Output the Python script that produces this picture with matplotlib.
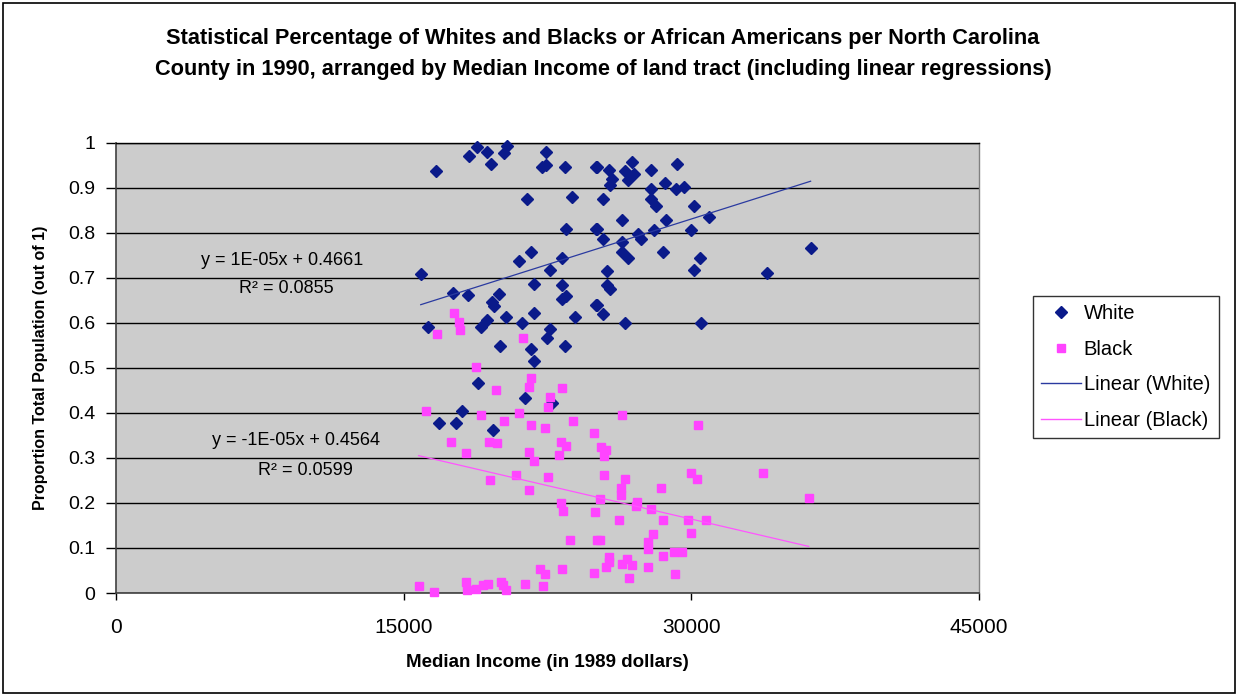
import matplotlib
matplotlib.use("Agg")
import matplotlib.pyplot as plt
from matplotlib.lines import Line2D
from matplotlib.patches import Rectangle
import numpy as np

plt.rcParams['font.family'] = ['Liberation Sans', 'DejaVu Sans']

# Median income (1989 dollars) and share of population, White residents
white_income = [18400, 18820, 19340, 20380, 20230, 19550, 16670, 22420, 22420, 22210,
                23420, 25040, 21430, 23780, 23470, 25040, 21640, 21010, 23260, 15890,
                22630, 21800, 23260, 17560, 18350, 19970, 19600, 19700, 21800, 23470,
                23260, 25040, 20330, 19340, 19020, 21170, 23940, 16250, 22630, 22470,
                20020, 21640, 21800, 23420, 18870, 21320, 22740, 16830, 17720, 18030,
                19650, 25090, 25710, 25870, 25770, 26920, 26550, 27020, 26710, 27910,
                29270, 27910, 28640, 29220, 29630, 25400, 27910, 28170, 30160, 26390,
                28690, 30940, 25090, 25400, 27230, 27390, 28070, 30000, 26390, 26390,
                26710, 28540, 30470, 30160, 33920, 36220, 25610, 25610, 25770, 25090,
                25400, 26550, 30520]
white_share = [0.971, 0.989, 0.978, 0.993, 0.976, 0.953, 0.936, 0.978, 0.949, 0.945,
               0.945, 0.945, 0.874, 0.880, 0.807, 0.807, 0.756, 0.736, 0.743, 0.707,
               0.716, 0.687, 0.683, 0.667, 0.661, 0.663, 0.645, 0.636, 0.621, 0.659,
               0.652, 0.639, 0.612, 0.605, 0.590, 0.599, 0.612, 0.590, 0.585, 0.565,
               0.548, 0.541, 0.514, 0.548, 0.466, 0.432, 0.421, 0.377, 0.377, 0.404,
               0.361, 0.945, 0.938, 0.918, 0.905, 0.956, 0.936, 0.929, 0.916, 0.938,
               0.953, 0.896, 0.909, 0.896, 0.902, 0.874, 0.874, 0.860, 0.860, 0.827,
               0.829, 0.834, 0.807, 0.785, 0.798, 0.785, 0.805, 0.805, 0.780, 0.756,
               0.743, 0.756, 0.743, 0.716, 0.710, 0.765, 0.714, 0.683, 0.674, 0.639,
               0.619, 0.599, 0.599]

# Median income (1989 dollars) and share of population, Black or African American residents
black_income = [17610, 17880, 17930, 16730, 21220, 18760, 21640, 19810, 21530, 23260,
                22630, 22530, 16150, 19020, 21010, 20230, 21640, 22370, 23830, 24930,
                17460, 19440, 19860, 23210, 23470, 18240, 21530, 21800, 23100, 19500,
                20850, 22530, 21530, 23210, 23310, 24980, 23680, 25090, 22110, 22370,
                23260, 24930, 15780, 16570, 18240, 18290, 18760, 19130, 19390, 20070,
                20170, 20330, 21320, 22270, 26390, 30370, 25300, 25560, 25450, 25450,
                26550, 30000, 30310, 33760, 28430, 26340, 26340, 36120, 25240, 27180,
                27130, 27910, 26240, 28540, 29840, 30780, 30000, 25240, 28010, 27750,
                27750, 25710, 25710, 26660, 25560, 26390, 26920, 27750, 28540, 29110,
                29530, 26760, 29160]
black_share = [0.621, 0.601, 0.583, 0.574, 0.565, 0.501, 0.477, 0.450, 0.457, 0.455,
               0.435, 0.412, 0.404, 0.395, 0.399, 0.381, 0.373, 0.366, 0.381, 0.355,
               0.335, 0.335, 0.333, 0.335, 0.326, 0.310, 0.313, 0.293, 0.306, 0.251,
               0.262, 0.257, 0.228, 0.200, 0.182, 0.180, 0.118, 0.118, 0.053, 0.042,
               0.053, 0.044, 0.016, 0.002, 0.024, 0.007, 0.009, 0.018, 0.020, 0.024,
               0.018, 0.007, 0.020, 0.016, 0.395, 0.373, 0.324, 0.317, 0.304, 0.262,
               0.253, 0.266, 0.253, 0.266, 0.233, 0.233, 0.217, 0.211, 0.208, 0.202,
               0.193, 0.186, 0.162, 0.162, 0.162, 0.162, 0.133, 0.118, 0.131, 0.113,
               0.098, 0.080, 0.069, 0.075, 0.058, 0.064, 0.062, 0.058, 0.082, 0.091,
               0.091, 0.033, 0.042]

x_ticks = [0, 15000, 30000, 45000]
y_ticks = [0, 0.1, 0.2, 0.3, 0.4, 0.5, 0.6, 0.7, 0.8, 0.9, 1]
y_tick_labels = ['0', '0.1', '0.2', '0.3', '0.4', '0.5', '0.6', '0.7', '0.8', '0.9', '1']

title_text = ("Statistical Percentage of Whites and Blacks or African Americans per North Carolina\n"
              "County in 1990, arranged by Median Income of land tract (including linear regressions)")
white_eq = "y = 1E-05x + 0.4661"
white_r2 = "R\u00b2 = 0.0855"
black_eq = "y = -1E-05x + 0.4564"
black_r2 = "R\u00b2 = 0.0599"

WHITE_C = '#0A1A8A'
BLACK_C = '#FF44FF'
WHITE_LINE = '#2A3AA0'
BLACK_LINE = '#FF55FF'

fig = plt.figure(figsize=(12.38, 6.96), dpi=100)
fig.patch.set_facecolor('white')
ax = fig.add_axes([116 / 1238, 1 - 593 / 696, (979 - 116) / 1238, (593 - 142.5) / 696])
ax.set_facecolor('#CCCCCC')

ax.set_xlim(0, 45000)
ax.set_ylim(0, 1)
ax.set_xticks(x_ticks)
ax.set_xticklabels([str(t) for t in x_ticks])
ax.set_yticks(y_ticks)
ax.set_yticklabels(y_tick_labels)
ax.tick_params(axis='y', length=7, width=1, pad=8, labelsize=14, colors='black')
ax.tick_params(axis='x', length=5, width=1, pad=13, labelsize=15, colors='black')

ax.yaxis.grid(True, color='black', linewidth=1.0)
ax.xaxis.grid(False)
ax.set_axisbelow(True)
for side in ('left', 'bottom'):
    ax.spines[side].set_color('#404040')
    ax.spines[side].set_linewidth(1.2)
ax.spines['top'].set_color('black')
ax.spines['top'].set_linewidth(1.0)
ax.spines['right'].set_color('#808080')
ax.spines['right'].set_linewidth(1.0)

# Scatter points
ax.plot(white_income, white_share, linestyle='none', marker='D', markersize=6.3,
        color=WHITE_C, markeredgecolor=WHITE_C, clip_on=False, zorder=3)
ax.plot(black_income, black_share, linestyle='none', marker='s', markersize=6.3,
        color=BLACK_C, markeredgecolor=BLACK_C, clip_on=False, zorder=3)

# Least-squares trend lines over each series' income range
wx = np.array(white_income, dtype=float)
bx = np.array(black_income, dtype=float)
w_fit = np.polyfit(wx, white_share, 1)
b_fit = np.polyfit(bx, black_share, 1)
wl = np.array([wx.min(), wx.max()])
bl = np.array([bx.min(), bx.max()])
ax.plot(wl, np.polyval(w_fit, wl), color=WHITE_LINE, linewidth=0.9, zorder=4)
ax.plot(bl, np.polyval(b_fit, bl), color=BLACK_LINE, linewidth=0.9, zorder=4)

ax.text(8655, 0.738, white_eq, fontsize=13, ha='center', va='center')
ax.text(8864, 0.676, white_r2, fontsize=13, ha='center', va='center')
ax.text(9385, 0.339, black_eq, fontsize=13, ha='center', va='center')
ax.text(9854, 0.273, black_r2, fontsize=13, ha='center', va='center')

ax.set_xlabel("Median Income (in 1989 dollars)", fontsize=13.5, fontweight='bold', labelpad=12)
ax.set_ylabel("Proportion Total Population (out of 1)", fontsize=11.5, fontweight='bold', labelpad=14)

fig.text(0.487, 1 - 54 / 696, title_text, ha='center', va='center', fontsize=15.7,
         fontweight='bold', linespacing=1.65)

handles = [
    Line2D([], [], linestyle='none', marker='D', markersize=6, color=WHITE_C),
    Line2D([], [], linestyle='none', marker='s', markersize=5.5, color=BLACK_C),
    Line2D([], [], color=WHITE_LINE, linewidth=1.0),
    Line2D([], [], color=BLACK_LINE, linewidth=1.0),
]
labels = ['White', 'Black', 'Linear (White)', 'Linear (Black)']
leg = fig.legend(handles, labels, loc='upper left', bbox_to_anchor=(1033 / 1238, 1 - 296 / 696),
                 frameon=True, fancybox=False, edgecolor='black', fontsize=14.5,
                 handlelength=1.95, handletextpad=0.15, labelspacing=0.82, borderpad=0.42,
                 borderaxespad=0)
leg.get_frame().set_linewidth(1.0)

# Chart border
fig.patches.append(Rectangle((3 / 1238, 3 / 696), 1 - 6 / 1238, 1 - 6 / 696,
                             transform=fig.transFigure, fill=False, edgecolor='black',
                             linewidth=1.2))

fig.savefig('out.png', dpi=100)
